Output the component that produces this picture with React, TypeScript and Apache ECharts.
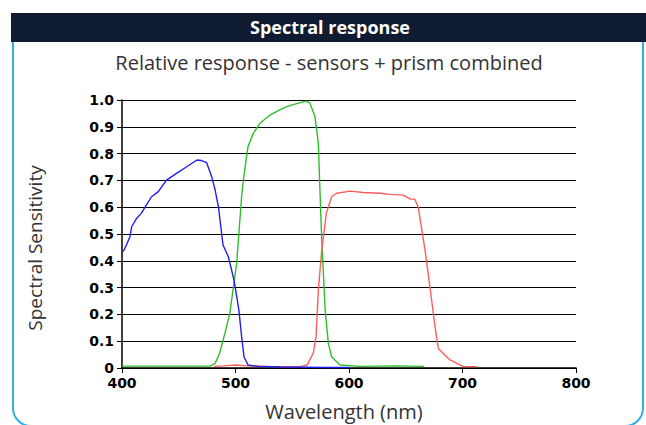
import React, { useEffect, useRef } from "react";
import * as echarts from "echarts";

const xTicks = [400, 500, 600, 700, 800];
const yTicks = [0, 0.1, 0.2, 0.3, 0.4, 0.5, 0.6, 0.7, 0.8, 0.9, 1.0];

const blueWavelength = [401, 404, 407, 408.5, 413, 417, 421, 426, 432, 439, 448, 457, 466, 470, 474.6, 479, 482, 485, 489, 493.7, 498.7, 503, 505.4, 507.5, 511, 520, 540, 560, 580, 600];
const blueResponse = [0.434, 0.46, 0.49, 0.527, 0.559, 0.577, 0.605, 0.639, 0.658, 0.7, 0.726, 0.751, 0.776, 0.774, 0.766, 0.714, 0.665, 0.6, 0.459, 0.415, 0.328, 0.216, 0.117, 0.042, 0.011, 0.006, 0.004, 0.003, 0.002, 0.002];

const greenWavelength = [400, 440, 477.5, 482, 486, 490.7, 495, 501, 505.4, 507.5, 511, 515.7, 521.6, 530.4, 539, 545, 557, 562, 565.6, 570, 573, 574.4, 576, 579, 581.8, 584.7, 592, 610, 640, 666];
const greenResponse = [0.007, 0.007, 0.007, 0.017, 0.055, 0.13, 0.205, 0.39, 0.64, 0.72, 0.826, 0.876, 0.913, 0.944, 0.963, 0.975, 0.99, 0.996, 0.988, 0.938, 0.838, 0.664, 0.478, 0.216, 0.092, 0.042, 0.011, 0.006, 0.008, 0.006];

const redWavelength = [481, 490, 500, 510, 530, 557, 563, 568.5, 571, 573, 576, 579, 580, 584.7, 589, 601, 612.6, 627, 636, 648, 654, 658, 661, 667, 671.4, 675.8, 678.7, 689, 700.7, 712.5];
const redResponse = [0.006, 0.008, 0.011, 0.008, 0.006, 0.005, 0.011, 0.055, 0.117, 0.29, 0.44, 0.54, 0.577, 0.639, 0.652, 0.66, 0.655, 0.652, 0.648, 0.645, 0.63, 0.63, 0.6, 0.44, 0.3, 0.154, 0.073, 0.03, 0.005, 0.005];

const zip = (xs: number[], ys: number[]) => xs.map((x, i) => [x, ys[i]]);

export default function App() {
  const ref = useRef<HTMLDivElement>(null);
  useEffect(() => {
    if (!ref.current) return;
    const chart = echarts.init(ref.current, null, { renderer: "svg" });
    const lineSeries = (name: string, data: number[][], color: string) => ({
      name,
      type: "line",
      data,
      showSymbol: false,
      symbol: "none",
      smooth: false,
      lineStyle: { color, width: 1.4 },
      itemStyle: { color },
    });
    chart.setOption({
      animation: false,
      backgroundColor: "#ffffff",
      grid: { left: 122, right: 70, top: 100, bottom: 57 },
      graphic: [
        {
          type: "rect",
          shape: { x: 13, y: 30, width: 630, height: 396, r: [0, 0, 18, 18] },
          style: { fill: "#ffffff", stroke: "#35aee3", lineWidth: 2 },
          z: -10,
        },
        {
          type: "rect",
          shape: { x: 11, y: 13, width: 635, height: 29 },
          style: { fill: "#0e1b30" },
          z: -5,
        },
        {
          type: "text",
          x: 330,
          y: 27,
          style: {
            text: "Spectral response",
            fill: "#ffffff",
            font: "bold 18px 'Open Sans', sans-serif",
            align: "center",
            verticalAlign: "middle",
          },
        },
        {
          type: "text",
          x: 329,
          y: 62,
          style: {
            text: "Relative response - sensors + prism combined",
            fill: "#333333",
            font: "20px 'Open Sans', sans-serif",
            align: "center",
            verticalAlign: "middle",
          },
        },
        {
          type: "text",
          x: 35,
          y: 248,
          rotation: Math.PI / 2,
          style: {
            text: "Spectral Sensitivity",
            fill: "#333333",
            font: "19px 'Open Sans', sans-serif",
            align: "center",
            verticalAlign: "middle",
          },
        },
        {
          type: "text",
          x: 344,
          y: 411,
          style: {
            text: "Wavelength (nm)",
            fill: "#333333",
            font: "20px 'Open Sans', sans-serif",
            align: "center",
            verticalAlign: "middle",
          },
        },
      ],
      xAxis: {
        type: "value",
        min: xTicks[0],
        max: xTicks[xTicks.length - 1],
        interval: 100,
        axisLine: { show: true, lineStyle: { color: "#000", width: 1.5 } },
        axisTick: { show: true, length: 5, lineStyle: { color: "#000" } },
        axisLabel: {
          color: "#000",
          fontWeight: "bold",
          fontSize: 14,
          fontFamily: "'DejaVu Sans', sans-serif",
          margin: 8,
        },
        splitLine: { show: false },
      },
      yAxis: {
        type: "value",
        min: yTicks[0],
        max: yTicks[yTicks.length - 1],
        interval: 0.1,
        axisLine: { show: true, lineStyle: { color: "#000", width: 1.5 } },
        axisTick: { show: true, length: 5, lineStyle: { color: "#000" } },
        axisLabel: {
          color: "#000",
          fontWeight: "bold",
          fontSize: 14,
          fontFamily: "'DejaVu Sans', sans-serif",
          margin: 8,
          formatter: (v: number) => (v === 0 ? "0" : v.toFixed(1)),
        },
        splitLine: { show: true, lineStyle: { color: "#000", width: 1 } },
      },
      series: [
        lineSeries("Green", zip(greenWavelength, greenResponse), "#2cbf2c"),
        lineSeries("Red", zip(redWavelength, redResponse), "#ff5c5c"),
        lineSeries("Blue", zip(blueWavelength, blueResponse), "#1f1ff0"),
      ],
    });
    return () => chart.dispose();
  }, []);
  return (
    <div
      ref={ref}
      style={{ position: "fixed", left: 0, top: 0, width: 646, height: 425 }}
    />
  );
}
